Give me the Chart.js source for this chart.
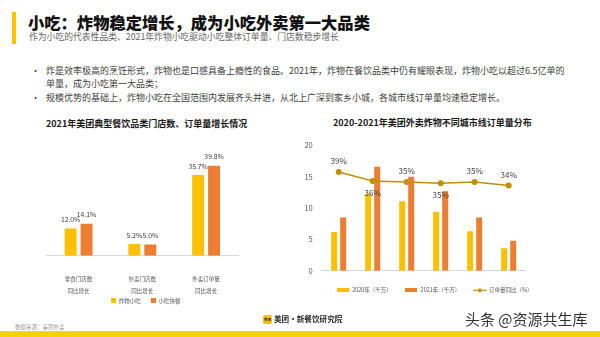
<!DOCTYPE html>
<html>
<head>
<meta charset="utf-8">
<script src="https://cdn.jsdelivr.net/npm/chart.js@4.4.1/dist/chart.umd.min.js"></script>
<style>
  body { margin:0; width:600px; height:337px; position:relative; overflow:hidden; background:#fff;
         font-family:"Noto Sans CJK SC","Noto Sans",sans-serif; }
  .abs { position:absolute; white-space:nowrap; }
  .bullet { position:absolute; left:31px; font-size:9px; line-height:13.8px; color:#404040; }
  .bullet span { position:absolute; left:0; }
  .bullet div { margin-left:15px; }
  canvas { position:absolute; }
</style>
</head>
<body>

<div class="abs" style="left:12px;top:12px;width:4px;height:32px;background:#FFC300"></div>
<div class="abs" style="left:28px;top:11px;font-size:16.3px;line-height:22px;font-weight:900;color:#111">小吃：炸物稳定增长，成为小吃外卖第一大品类</div>
<div class="abs" style="left:29px;top:31px;font-size:8.8px;line-height:12px;color:#666">作为小吃的代表性品类、2021年炸物小吃驱动小吃整体订单量、门店数稳步增长</div>

<div class="bullet" style="top:63.5px"><span>•</span><div>炸是效率极高的烹饪形式，炸物也是口感具备上瘾性的食品。2021年，炸物在餐饮品类中仍有耀眼表现，炸物小吃以超过6.5亿单的<br>单量，成为小吃第一大品类；</div></div>
<div class="bullet" style="top:91px"><span>•</span><div>规模优势的基础上，炸物小吃在全国范围内发展齐头并进，从北上广深到家乡小城，各城市线订单量均速稳定增长。</div></div>

<div class="abs" style="left:46px;top:118px;width:197px;text-align:center;font-size:9px;line-height:12px;font-weight:700;color:#1a1a1a">2021年美团典型餐饮品类门店数、订单量增长情况</div>
<div class="abs" style="left:333px;top:117px;width:187px;text-align:center;font-size:9px;line-height:12px;font-weight:700;color:#1a1a1a">2020-2021年美团外卖炸物不同城市线订单量分布</div>

<canvas id="left-chart" style="left:24px;top:130px;width:236px;height:184px"></canvas>
<canvas id="right-chart" style="left:292px;top:132px;width:290px;height:172px"></canvas>

<div class="abs" style="left:15px;top:323px;font-size:5.5px;line-height:8px;color:#9a9a9a">数据来源：美团外卖</div>
<div class="abs" style="left:263px;top:315px;width:9px;height:9px;border-radius:2px;background:#FFC300;font-size:3.5px;line-height:9px;text-align:center;color:#222;font-weight:700">美团</div>
<div class="abs" style="left:274px;top:314px;font-size:7.6px;line-height:10px;font-weight:700;color:#2a2a2a">美团·新餐饮研究院</div>
<div class="abs" style="left:465px;top:309px;font-size:15px;line-height:20px;color:#333">头条 @资源共生库</div>
<div class="abs" style="left:0;top:331px;width:600px;height:6px;background:#FFD100"></div>

<script>
// ── Dados: gráfico da esquerda ──
const leftCats = [['堂食门店数', '同比增长'], ['外卖门店数', '同比增长'], ['外卖订单量', '同比增长']];
const leftSeriesNames = ['炸物小吃', '小吃快餐'];
const friedSnack = [12.0, 5.2, 35.7];
const snackFast = [14.1, 5.0, 39.8];

// ── Dados: gráfico da direita ──
const cityCats = ['一线城市', '新一线城市', '二线城市', '三线城市', '四线城市', '五线城市'];
const rightSeriesNames = ['2020年（千万）', '2021年（千万）', '订单量同比（%）'];
const orders2020 = [6.2, 12.3, 11.1, 9.4, 6.3, 3.6];
const orders2021 = [8.5, 16.6, 15.0, 12.7, 8.5, 4.8];
const orderGrowth = [39.4, 35.8, 35.4, 34.9, 35.4, 34.0];
const cityTicks = [0, 5, 10, 15, 20];

const YELLOW = '#FFC000', ORANGE = '#ED7D31', GOLD = '#BF9000';
const FONT = '"Noto Sans CJK SC", "Noto Sans", sans-serif';

// rótulos de valor (sem plugin externo)
const valueLabels = {
  id: 'valueLabels',
  afterDatasetsDraw(chart) {
    const ctx = chart.ctx;
    ctx.save();
    ctx.textAlign = 'center';
    ctx.textBaseline = 'middle';
    chart.data.datasets.forEach((ds, i) => {
      if (!ds.lbl) return;
      const meta = chart.getDatasetMeta(i);
      ctx.font = ds.lbl.font;
      ctx.fillStyle = ds.lbl.color;
      meta.data.forEach((el, j) => {
        const below = ds.lbl.below && ds.lbl.below[j];
        const dy = below ? ds.lbl.down : -ds.lbl.up;
        ctx.fillText(ds.lbl.fmt(ds.data[j]), el.x, el.y + dy);
      });
    });
    ctx.restore();
  }
};

function swatch(w, h, draw) {
  const c = document.createElement('canvas');
  c.width = w; c.height = h;
  draw(c.getContext('2d'));
  return c;
}

Chart.defaults.font.family = FONT;
Chart.defaults.color = '#595959';

// ── Esquerda ──
// quadradinhos da legenda: ícone largo com o quadrado à direita, para espaçar os itens
const leftIcons = [
  swatch(12, 5, c => { c.fillStyle = YELLOW; c.fillRect(7, 0, 5, 5); }),
  swatch(12, 5, c => { c.fillStyle = ORANGE; c.fillRect(7, 0, 5, 5); })
];

new Chart(document.getElementById('left-chart'), {
  type: 'bar',
  data: {
    labels: leftCats,
    datasets: [
      { label: leftSeriesNames[0], data: friedSnack, backgroundColor: YELLOW,
        barPercentage: 0.75, categoryPercentage: 0.5,
        lbl: { font: '6.8px ' + FONT, color: '#404040', up: 9, fmt: v => v.toFixed(1) + '%' } },
      { label: leftSeriesNames[1], data: snackFast, backgroundColor: ORANGE,
        barPercentage: 0.75, categoryPercentage: 0.5,
        lbl: { font: '6.8px ' + FONT, color: '#404040', up: 9, fmt: v => v.toFixed(1) + '%' } }
    ]
  },
  options: {
    responsive: false, animation: false, devicePixelRatio: 1,
    layout: { padding: { left: 22.7, right: 22, top: 12.6, bottom: 0.55 } },
    plugins: {
      tooltip: { enabled: false },
      legend: {
        position: 'bottom',
        labels: {
          usePointStyle: true, pointStyleWidth: 12, padding: 3,
          font: { size: 5.5 }, color: '#595959',
          generateLabels: chart => Chart.defaults.plugins.legend.labels.generateLabels(chart)
            .map(it => Object.assign(it, { pointStyle: leftIcons[it.datasetIndex] }))
        }
      }
    },
    scales: {
      x: {
        grid: { display: false, drawTicks: false },
        border: { display: true, color: '#D9D9D9' },
        ticks: { padding: 17, font: { size: 5.5, lineHeight: 2.15 }, color: '#595959', autoSkip: false },
        afterFit: s => { s.height = 39.25; }
      },
      y: { display: false, min: 0, max: 50 }
    }
  },
  plugins: [valueLabels]
});

// ── Direita ──
const growthBelow = [false, true, false, true, false, false];
const legendIcons = [
  swatch(12, 4, c => { c.fillStyle = YELLOW; c.fillRect(0, 0, 12, 4); }),
  swatch(12, 4, c => { c.fillStyle = ORANGE; c.fillRect(0, 0, 12, 4); }),
  swatch(14, 5, c => {
    c.strokeStyle = GOLD; c.lineWidth = 1.2;
    c.beginPath(); c.moveTo(0, 2.5); c.lineTo(14, 2.5); c.stroke();
    c.fillStyle = GOLD; c.beginPath(); c.arc(7, 2.5, 2, 0, Math.PI * 2); c.fill();
  })
];

new Chart(document.getElementById('right-chart'), {
  type: 'bar',
  data: {
    labels: cityCats,
    datasets: [
      { label: rightSeriesNames[0], data: orders2020, backgroundColor: YELLOW, order: 1,
        barPercentage: 0.667, categoryPercentage: 0.53 },
      { label: rightSeriesNames[1], data: orders2021, backgroundColor: ORANGE, order: 1,
        barPercentage: 0.667, categoryPercentage: 0.53 },
      { type: 'line', label: rightSeriesNames[2], data: orderGrowth, yAxisID: 'y1', order: 0,
        borderColor: GOLD, backgroundColor: GOLD, borderWidth: 1.5,
        pointRadius: 3, pointBackgroundColor: GOLD, pointBorderWidth: 0, tension: 0,
        lbl: { font: '8px ' + FONT, color: '#404040', up: 11, down: 12, below: growthBelow,
               fmt: v => Math.round(v) + '%' } }
    ]
  },
  options: {
    responsive: false, animation: false, devicePixelRatio: 1,
    layout: { padding: { left: 0, right: 5, top: 10.3, bottom: 0.95 } },
    plugins: {
      tooltip: { enabled: false },
      legend: {
        position: 'bottom',
        labels: {
          usePointStyle: true, pointStyleWidth: 13, padding: 13,
          font: { size: 5.5 }, color: '#595959',
          sort: (a, b) => a.datasetIndex - b.datasetIndex,
          generateLabels: chart => Chart.defaults.plugins.legend.labels.generateLabels(chart)
            .map(it => Object.assign(it, { pointStyle: legendIcons[it.datasetIndex] }))
        }
      }
    },
    scales: {
      x: {
        grid: { display: false, drawTicks: false },
        border: { display: true, color: '#D9D9D9' },
        ticks: { padding: 7.4, font: { size: 6 }, color: '#595959', autoSkip: false },
        afterFit: s => { s.height = 3.85; }
      },
      y: {
        min: 0, max: 20,
        grid: { display: false, drawTicks: false },
        border: { display: false },
        afterBuildTicks: s => { s.ticks = cityTicks.map(v => ({ value: v })); },
        ticks: { padding: 9, font: { size: 7.5 }, color: '#595959' },
        afterFit: s => { s.width = 29.7; }
      },
      y1: {
        position: 'right', min: 0, max: 50,
        grid: { display: false, drawTicks: false },
        border: { display: false },
        ticks: { display: false },
        afterFit: s => { s.width = 51.3; }
      }
    }
  },
  plugins: [valueLabels]
});
</script>
</body>
</html>
